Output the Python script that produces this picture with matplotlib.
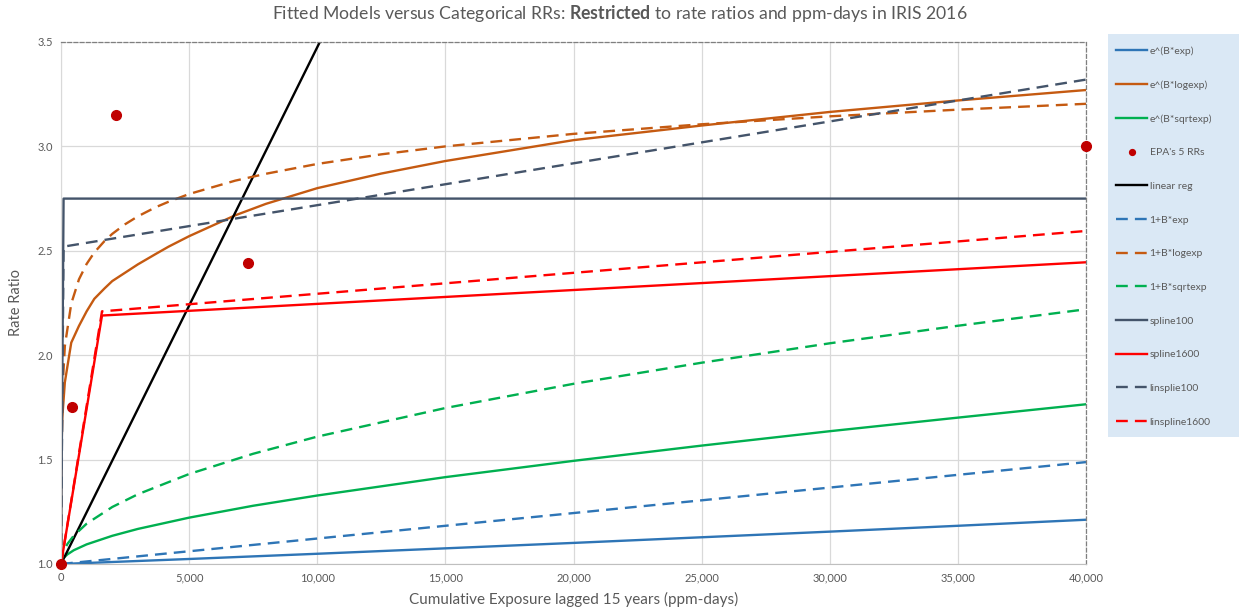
import matplotlib
matplotlib.use("Agg")
import matplotlib.pyplot as plt
from matplotlib.patches import Rectangle
from matplotlib.ticker import FuncFormatter, MultipleLocator

plt.rcParams['font.family'] = ['Lato', 'DejaVu Sans']
plt.rcParams['mathtext.fontset'] = 'custom'
plt.rcParams['mathtext.rm'] = 'Lato'
plt.rcParams['mathtext.bf'] = 'Lato:bold'

# exposure grid for the exponential / linear-in-exposure models
x_exp = [0, 5000, 10000, 15000, 20000, 25000, 30000, 35000, 40000]
rr_e_exp = [1.0, 1.024, 1.049, 1.075, 1.101, 1.128, 1.155, 1.183, 1.212]
rr_lin_exp = [1.0, 1.061, 1.122, 1.183, 1.244, 1.305, 1.366, 1.427, 1.488]

# sqrt(exposure) models
x_sqrt = [0, 100, 250, 500, 1000, 2000, 3000, 5000, 7500, 10000,
          15000, 20000, 25000, 30000, 35000, 40000]
rr_e_sqrt = [1.0, 1.029, 1.046, 1.066, 1.094, 1.135, 1.168, 1.222, 1.279, 1.328,
             1.416, 1.494, 1.567, 1.636, 1.701, 1.765]
rr_lin_sqrt = [1.0, 1.061, 1.096, 1.136, 1.193, 1.273, 1.334, 1.431, 1.528, 1.610,
               1.747, 1.863, 1.964, 2.057, 2.141, 2.220]

# log(exposure) models
x_log = [0, 1, 5, 20, 50, 150, 400, 700, 1000, 1300, 1700, 2000, 2500, 3000, 3700,
         4200, 5000, 6800, 8000, 10000, 12500, 15000, 20000, 25000, 30000, 35000, 40000]
rr_e_log = [1.0, 1.15, 1.35, 1.55, 1.70, 1.87, 2.06, 2.14, 2.21, 2.27, 2.32, 2.355, 2.395,
            2.435, 2.485, 2.52, 2.57, 2.67, 2.725, 2.80, 2.87, 2.93, 3.03, 3.10, 3.165,
            3.22, 3.27]
rr_lin_log = [1.0, 1.144, 1.373, 1.633, 1.818, 2.044, 2.247, 2.363, 2.437, 2.492, 2.547,
              2.581, 2.627, 2.665, 2.709, 2.735, 2.772, 2.836, 2.869, 2.916, 2.962, 3.000,
              3.060, 3.106, 3.144, 3.176, 3.204]

# linear regression
x_linreg = [0, 40000]
rr_linreg = [1.0, 10.9]

# splines with knots at 100 and 1600 ppm-days
x_knot100 = [0, 100, 40000]
rr_spline100 = [1.0, 2.75, 2.75]
rr_linspline100 = [1.0, 2.52, 3.32]
x_knot1600 = [0, 1600, 40000]
rr_spline1600 = [1.0, 2.19, 2.445]
rr_linspline1600 = [1.0, 2.21, 2.595]

# EPA categorical rate ratios
epa_x = [0, 418, 2135, 7310, 40000]
epa_rr = [1.0, 1.75, 3.15, 2.44, 3.0]

BLUE = '#2E75B6'
ORANGE = '#C55A11'
GREEN = '#00B050'
NAVY = '#44546A'
RED = '#FF0000'
DOT = '#C00000'
TXT = '#595959'

fig = plt.figure(figsize=(12.39, 6.13), dpi=100)
ax = fig.add_axes([61 / 1239, 49 / 613, 1025 / 1239, 522 / 613])

lw = 1.7
dash = (5, 3)
ax.plot(x_exp, rr_e_exp, color=BLUE, lw=lw, label='e^(B*exp)')
ax.plot(x_log, rr_e_log, color=ORANGE, lw=lw, label='e^(B*logexp)')
ax.plot(x_sqrt, rr_e_sqrt, color=GREEN, lw=lw, label='e^(B*sqrtexp)')
ax.plot(epa_x, epa_rr, 'o', color=DOT, ms=7, clip_on=False, zorder=5, label="EPA's 5 RRs")
ax.plot(x_linreg, rr_linreg, color='black', lw=lw, label='linear reg')
ax.plot(x_exp, rr_lin_exp, color=BLUE, lw=lw, dashes=dash, label='1+B*exp')
ax.plot(x_log, rr_lin_log, color=ORANGE, lw=lw, dashes=dash, label='1+B*logexp')
ax.plot(x_sqrt, rr_lin_sqrt, color=GREEN, lw=lw, dashes=dash, label='1+B*sqrtexp')
ax.plot(x_knot100, rr_spline100, color=NAVY, lw=lw, label='spline100')
ax.plot(x_knot1600, rr_spline1600, color=RED, lw=lw, label='spline1600')
ax.plot(x_knot100, rr_linspline100, color=NAVY, lw=lw, dashes=dash, label='linsplie100')
ax.plot(x_knot1600, rr_linspline1600, color=RED, lw=lw, dashes=dash, label='linspline1600')

ax.set_xlim(0, 40000)
ax.set_ylim(1.0, 3.5)
ax.xaxis.set_major_locator(MultipleLocator(5000))
ax.yaxis.set_major_locator(MultipleLocator(0.5))
ax.xaxis.set_major_formatter(FuncFormatter(lambda v, p: f'{int(v):,}'))
ax.yaxis.set_major_formatter(FuncFormatter(lambda v, p: f'{v:.1f}'))
ax.tick_params(length=0, labelsize=8, colors=TXT, pad=6)
ax.grid(True, color='#D9D9D9', lw=0.9)
ax.set_axisbelow(True)

for s in ['top', 'right']:
    ax.spines[s].set_linestyle((0, (3, 2)))
    ax.spines[s].set_color('#7F7F7F')
    ax.spines[s].set_linewidth(0.9)
ax.spines['bottom'].set_color('#BFBFBF')
ax.spines['left'].set_color('#D9D9D9')

ax.set_xlabel('Cumulative Exposure lagged 15 years (ppm-days)', fontsize=11, color=TXT, labelpad=6)
ax.set_ylabel('Rate Ratio', fontsize=10.5, color=TXT, labelpad=10)

fig.text(0.5, 1 - 14 / 613,
         r'Fitted Models versus Categorical RRs: $\bf{Restricted}$ to rate ratios and ppm-days in IRIS 2016',
         ha='center', va='center', fontsize=12.7, color=TXT)

# legend panel
fig.patches.append(Rectangle((1108 / 1239, 1 - 437 / 613), 131 / 1239, 403 / 613,
                             transform=fig.transFigure, facecolor='#DAE8F5',
                             edgecolor='none', zorder=0))
leg = fig.legend(*ax.get_legend_handles_labels(), loc='upper left',
                 bbox_to_anchor=(1112 / 1239, 1 - 42 / 613), frameon=False,
                 fontsize=7.5, labelspacing=2.34, handlelength=3.0, handletextpad=0.2,
                 markerscale=0.6, borderaxespad=0, labelcolor=TXT)

fig.savefig('out.png', dpi=100)
